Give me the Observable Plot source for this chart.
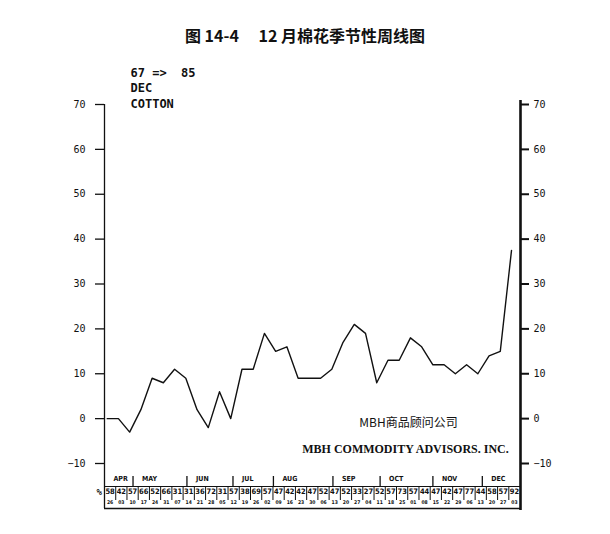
<!DOCTYPE html>
<html><head><meta charset="utf-8">
<script src="https://cdn.jsdelivr.net/npm/d3@7"></script>
<script src="https://cdn.jsdelivr.net/npm/@observablehq/plot@0.6"></script>
<style>
body{margin:0;background:#fff;width:610px;height:534px;overflow:hidden}
#title{height:60px;box-sizing:border-box;padding-top:25px;line-height:20px;text-align:center;font-weight:bold;font-size:16px;font-family:"Noto Sans CJK SC","Noto Sans",sans-serif;color:#111;white-space:pre}
</style></head><body>
<div id="title"></div><div id="chart"></div>
<script>
const title = "图 14-4\u3000 12 月棉花季节性周线图";
const subtitleLines = ["67 =>  85", "DEC", "COTTON"];
const values = [0,0,-3,2,9,8,11,9,2,-2,6,0,11,11,19,15,16,9,9,9,11,17,21,19,8,13,13,18,16,12,12,10,12,10,14,15,37.5];
const yTicks = [-10,0,10,20,30,40,50,60,70];
const months = ["APR","MAY","JUN","JUL","AUG","SEP","OCT","NOV","DEC"];
const monthStarts = [-0.24,2.3,7.1,11.2,14.8,20.1,24.3,29.0,33.4];
const pctUp = [58,42,57,66,52,66,31,31,36,72,31,57,38,69,57,47,42,42,47,52,47,52,33,27,52,57,73,57,44,47,42,47,77,44,58,57,92];
const weekDates = ["26","03","10","17","24","31","07","14","21","28","05","12","19","26","02","09","16","23","30","06","13","20","27","04","11","18","25","01","08","15","22","29","06","13","20","27","03"];
const noteCn = "MBH商品顾问公司";
const noteEn = "MBH COMMODITY ADVISORS. INC.";

document.getElementById("title").textContent = title;

const xMin = -0.24, xMax = 36.8;
const frameH = 474 - 44 - 71;
const data = values.map((v, i) => ({week: i, value: v}));
const cols = pctUp.map((p, i) => ({week: i + 0.26, pct: String(p), date: weekDates[i]}));
const dividers = cols.slice(1).map(d => ({x: d.week - 0.5}));
const monthData = months.map((m, i) => ({label: m, x: monthStarts[i]}));

const chart = Plot.plot({
  width: 610, height: 474,
  marginTop: 44, marginBottom: 71, marginLeft: 104, marginRight: 90,
  x: {domain: [xMin, xMax], axis: null},
  y: {domain: [-10, 70], axis: null},
  style: {fontFamily: "DejaVu Sans Mono", fontSize: "10px", color: "#111", background: "#fff", overflow: "visible"},
  marks: [
    Plot.axisY({anchor: "left", ticks: yTicks, tickSize: 9, tickPadding: 10, label: null, fontSize: 10, strokeWidth: 1.3}),
    Plot.axisY({anchor: "right", ticks: yTicks, tickSize: 8, tickPadding: 5, label: null, fontSize: 10, strokeWidth: 2}),
    Plot.ruleX([xMin], {insetBottom: -45, stroke: "#111", strokeWidth: 1.3}),
    Plot.ruleX([xMax], {insetTop: -4, insetBottom: -47, stroke: "#111", strokeWidth: 2.6}),
    Plot.ruleY([-10], {x1: xMin, x2: xMax, dy: 23, stroke: "#111", strokeWidth: 1.2}),
    Plot.ruleY([-10], {x1: xMin, x2: xMax, dy: 45, stroke: "#111", strokeWidth: 1.6}),
    Plot.ruleX(dividers, {x: "x", insetTop: frameH + 23, insetBottom: -37, stroke: "#111", strokeWidth: 1}),
    Plot.ruleX(monthData.slice(1), {x: "x", insetTop: frameH + 13, insetBottom: -23, stroke: "#111", strokeWidth: 1.3}),
    Plot.text(monthData, {x: "x", text: "label", frameAnchor: "bottom", textAnchor: "start", dx: 9, dy: 17, fontSize: 7, fontWeight: "bold", fontFamily: "DejaVu Sans Condensed"}),
    Plot.text(cols, {x: "week", text: "pct", frameAnchor: "bottom", dy: 30, fontSize: 7.5, fontWeight: "bold", fontFamily: "DejaVu Sans Condensed"}),
    Plot.text(cols, {x: "week", text: "date", frameAnchor: "bottom", dy: 40, fontSize: 5, fontWeight: "bold", fontFamily: "DejaVu Sans Condensed"}),
    Plot.text(["%"], {frameAnchor: "bottom-left", dx: -8, dy: 31, fontSize: 9, fontWeight: "bold"}),
    Plot.line(data, {x: "week", y: "value", stroke: "#111", strokeWidth: 1.4}),
    Plot.text([subtitleLines.join("\n")], {frameAnchor: "top-left", textAnchor: "start", lineAnchor: "top", dx: 26, dy: -39, lineHeight: 1.3, fontSize: 12, fontWeight: "bold", fontFamily: "DejaVu Sans Mono"}),
    Plot.text([noteCn], {frameAnchor: "bottom-right", textAnchor: "middle", dx: -112, dy: -37, fontSize: 12, fontFamily: "Noto Sans CJK SC"}),
    Plot.text([noteEn], {frameAnchor: "bottom-right", textAnchor: "middle", dx: -115, dy: -11, fontSize: 12, fontWeight: "bold", fontFamily: "Liberation Serif"})
  ]
});
document.getElementById("chart").appendChild(chart);
</script>
</body></html>
